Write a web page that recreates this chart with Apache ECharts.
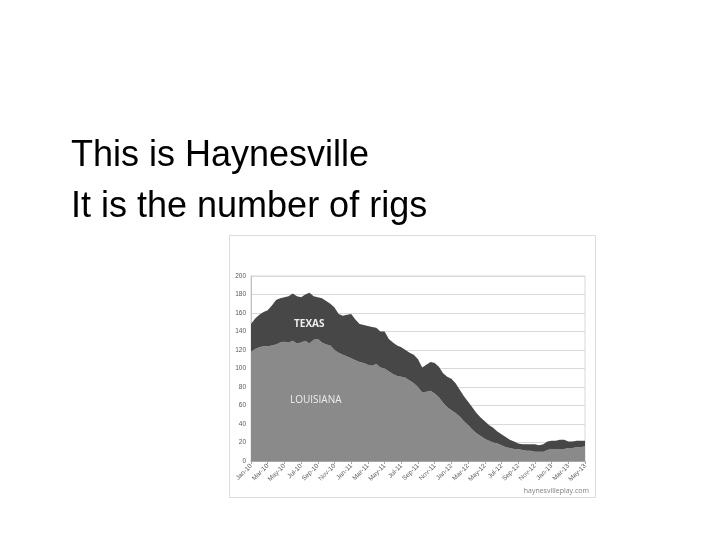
<!DOCTYPE html>
<html>
<head>
<meta charset="utf-8">
<script src="https://cdn.jsdelivr.net/npm/echarts@6/dist/echarts.min.js"></script>
<style>
  html, body { margin: 0; padding: 0; background: #fff; }
  #main { width: 720px; height: 540px; }
</style>
</head>
<body>
<div id="main"></div>
<script>
// rig counts, every half month, Jan-10 .. May-13
var louisiana = [118,121,123,124,124,125,126,128,129,128,130,127,128,130,127,131,132,128,126,125,
                 120,117,115,113,111,109,107,106,104,103,105,101,100,97,94,92,91,90,87,84,
                 80,74,75,76,73,69,63,58,55,52,48,43,39,34,30,27,24,22,20,19,
                 17,15,14,13,13,12,11,11,10,10,10,12,13,13,13,13,14,14,15,15,16];
var texas = [30,33,35,37,39,43,48,48,48,50,51,51,49,50,55,47,45,48,47,45,
             46,42,42,45,48,44,41,41,42,42,39,39,40,35,34,33,32,30,30,31,
             30,27,29,31,33,33,32,33,34,32,29,27,25,24,22,20,19,17,16,13,
             12,11,9,8,6,6,7,7,8,7,8,9,9,9,10,10,7,7,7,7,6];
var monthNames = ['Jan','Feb','Mar','Apr','May','Jun','Jul','Aug','Sep','Oct','Nov','Dec'];
var yTicks = [0, 200, 20];   // min, max, step

var categories = [];
for (var k = 0; k < louisiana.length; k++) {
  var m = Math.floor(k / 2);
  var lab = monthNames[m % 12] + '-' + (10 + Math.floor(m / 12));
  categories.push(k % 2 == 0 ? lab : 'mid ' + lab);
}

var myChart = echarts.init(document.getElementById('main'));
var axisFont = 'Liberation Sans';

var option = {
  backgroundColor: '#ffffff',
  animation: false,
  grid: {
    show: true,
    left: 251, right: 135, top: 276, bottom: 79,
    borderColor: '#d9d9d9', borderWidth: 1,
    containLabel: false
  },
  xAxis: {
    type: 'category',
    data: categories,
    boundaryGap: false,
    axisLine: { lineStyle: { color: '#a6a6a6', width: 1 } },
    axisTick: { show: true, interval: 3, length: 3, lineStyle: { color: '#a6a6a6' } },
    axisLabel: {
      interval: 3, rotate: 45, fontSize: 6.5, color: '#595959',
      fontFamily: axisFont, margin: 4
    },
    splitLine: { show: false }
  },
  yAxis: {
    type: 'value',
    min: yTicks[0], max: yTicks[1], interval: yTicks[2],
    axisLine: { show: true, lineStyle: { color: '#bfbfbf' } },
    axisTick: { show: false },
    axisLabel: { fontSize: 6.5, color: '#595959', fontFamily: axisFont, margin: 5 },
    splitLine: { lineStyle: { color: '#d9d9d9', width: 1 } }
  },
  series: [
    {
      name: 'LOUISIANA', type: 'line', stack: 'rigs',
      data: louisiana, symbol: 'none',
      lineStyle: { width: 0 },
      areaStyle: { color: '#8a8a8a', opacity: 1 },
      itemStyle: { color: '#8a8a8a' }
    },
    {
      name: 'TEXAS', type: 'line', stack: 'rigs',
      data: texas, symbol: 'none',
      lineStyle: { width: 0 },
      areaStyle: { color: '#474747', opacity: 1 },
      itemStyle: { color: '#474747' }
    }
  ],
  graphic: [
    {
      type: 'rect', z: -10, silent: true,
      shape: { x: 229.5, y: 235.5, width: 366, height: 262 },
      style: { fill: '#ffffff', stroke: '#dcdcdc', lineWidth: 1 }
    },
    {
      type: 'text', left: 71, top: 138,
      style: { text: 'This is Haynesville', fontSize: 36, fontFamily: 'Liberation Sans', fill: '#000' }
    },
    {
      type: 'text', left: 71, top: 189,
      style: { text: 'It is the number of rigs', fontSize: 36, fontFamily: 'Liberation Sans', fill: '#000' }
    },
    {
      type: 'text', left: 294, top: 319, z: 100,
      style: { text: 'TEXAS', fontSize: 10, fontWeight: 'bold', fontFamily: 'Open Sans', fill: '#eeeeee' }
    },
    {
      type: 'text', left: 290, top: 395, z: 100,
      style: { text: 'LOUISIANA', fontSize: 10, fontFamily: 'Open Sans', fill: '#eeeeee' }
    },
    {
      type: 'text', right: 131, top: 487,
      style: { text: 'haynesvilleplay.com', fontSize: 7, fontFamily: 'Open Sans', fill: '#7f7f7f' }
    }
  ]
};

myChart.setOption(option);
</script>
</body>
</html>
